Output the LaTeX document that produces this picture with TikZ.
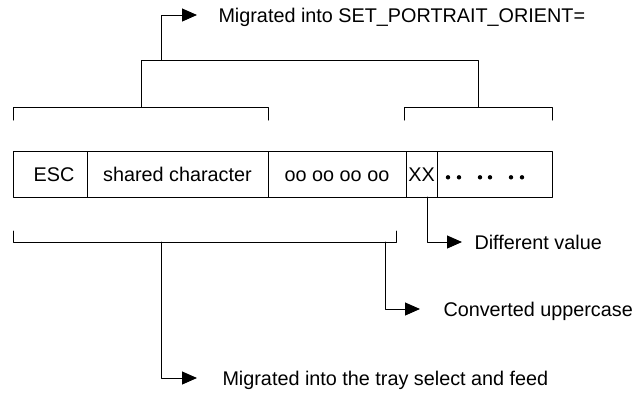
\documentclass[tikz,border=0pt]{standalone}
\usepackage{fontspec}
\setmainfont{Liberation Sans}
\usepackage{tikz}
\usetikzlibrary{arrows.meta}
\usetikzlibrary{positioning}

\begin{document}
\begin{tikzpicture}[line cap=round,line join=round,>={Triangle[length=15pt,width=13pt]},x=1pt,y=-1pt,line width=1pt,
  cell/.style={draw,minimum height=46pt,inner sep=0pt,outer sep=0pt,text height=14.2pt,text depth=0pt},
  lbl/.style={inner sep=0pt,text height=14.2pt,text depth=0pt},
  font=\fontsize{19.8}{23}\selectfont]
\useasboundingbox (0,0) rectangle (634,392);
% the record
\node[cell,anchor=west,minimum width=74pt] (esc) at (13,174) {\hspace{8pt}ESC};
\node[cell,right=0pt of esc,minimum width=181pt] (shared) {shared character\hspace{10pt}};
\node[cell,right=0pt of shared,minimum width=138pt] (oos) {oo oo oo oo};
\node[cell,right=0pt of oos,minimum width=31pt] (xx) {XX};
\node[cell,right=0pt of xx,minimum width=115pt] (rest) {};
\foreach \x in {448,459,480,490,511,522}
\fill (\x,177.3) circle (2.2pt);
% brackets
\draw (13,120)-- (13,107)-- (268,107)-- (268,120);
\draw (404,120)-- (404,107)-- (552,107)-- (552,120);
\draw (141,107)-- (141,60)-- (478,60)-- (478,107);
\draw (13,231)-- (13,242)-- (396,242)-- (396,231);
\coordinate (topfork) at (161,60);
\coordinate (trayfork) at (161,242);
\coordinate (convfork) at (385,242);
% arrow ends and labels
\coordinate (orienttip) at (197,15);
\coordinate (difftip) at (462,242);
\coordinate (convtip) at (420,309);
\coordinate (traytip) at (197,378);
\node[lbl,right=21pt of orienttip] (orient) {Migrated into SET\_PORTRAIT\_ORIENT=};
\node[lbl,right=12pt of difftip] (diff) {Different value};
\node[lbl,right=23pt of convtip] (conv) {Converted uppercase};
\node[lbl,right=25pt of traytip] (tray) {Migrated into the tray select and feed};
\draw[->] (topfork) |- (orienttip);
\draw[->] ([xshift=5.5pt]xx.south) |- (difftip);
\draw[->] (convfork) |- (convtip);
\draw[->] (trayfork) |- (traytip);
\end{tikzpicture}
\end{document}
